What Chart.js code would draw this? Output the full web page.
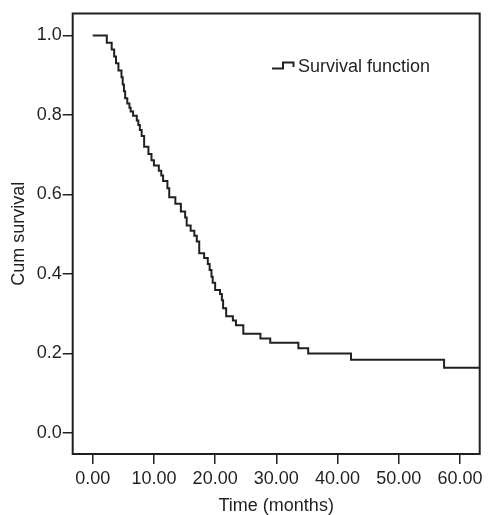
<!DOCTYPE html>
<html><head><meta charset="utf-8">
<script src="https://cdn.jsdelivr.net/npm/chart.js@4/dist/chart.umd.min.js"></script>
<style>html,body{margin:0;padding:0;background:#fff;}#wrap{width:491px;height:515px;}</style>
</head><body><div id="wrap"><canvas id="c" width="491" height="515"></canvas></div>
<script>
const seriesLabel = 'Survival function';
const times = [0, 2.3, 3.1, 3.5, 3.8, 4.2, 4.7, 4.9, 5.1, 5.3, 5.65, 6.0, 6.2, 6.6, 7.2, 7.45, 7.7, 8.0, 8.4,
  9.1, 9.6, 10.0, 10.8, 11.2, 11.5, 12.2, 12.5, 13.5, 14.4, 15.1, 15.35, 16.0, 16.6, 17.0, 17.4, 18.2, 18.8,
  19.1, 19.4, 19.6, 20.0, 20.8, 21.1, 21.3, 21.8, 22.9, 23.4, 24.6, 27.4, 29.0, 33.6, 35.2, 42.2, 57.4, 63.2];
const survival = [1.0, 0.982, 0.965, 0.947, 0.930, 0.912, 0.895, 0.877, 0.860, 0.842, 0.829, 0.818, 0.809, 0.798, 0.786, 0.775, 0.762, 0.747, 0.720,
  0.702, 0.686, 0.673, 0.660, 0.648, 0.634, 0.616, 0.593, 0.577, 0.557, 0.542, 0.522, 0.509, 0.496, 0.482, 0.452, 0.440, 0.425,
  0.410, 0.393, 0.378, 0.360, 0.350, 0.334, 0.314, 0.294, 0.283, 0.271, 0.250, 0.238, 0.227, 0.213, 0.200, 0.184, 0.164, 0.164];
const xTicks = [0, 10, 20, 30, 40, 50, 60];
const yTicks = [0, 0.2, 0.4, 0.6, 0.8, 1.0];
const xTitle = 'Time (months)';
const yTitle = 'Cum survival';

const FONT = '"Liberation Sans", Arial, Helvetica, sans-serif';
const INK = '#231f20';

const points = times.map((t, i) => ({x: t, y: survival[i]}));

const framePlugin = {
  id: 'frame',
  afterDatasetsDraw(chart) {
    const {ctx, chartArea: a} = chart;
    ctx.save();
    ctx.strokeStyle = INK;
    ctx.lineWidth = 2;
    ctx.strokeRect(a.left, a.top, a.right - a.left, a.bottom - a.top);
    ctx.restore();
  }
};

const legendPlugin = {
  id: 'stepLegend',
  afterDraw(chart) {
    const {ctx} = chart;
    const ds = chart.data.datasets[0];
    const x0 = 272, yLow = 68.5, yHigh = 62.5;
    ctx.save();
    ctx.strokeStyle = ds.borderColor;
    ctx.lineWidth = 2;
    ctx.beginPath();
    ctx.moveTo(x0, yLow);
    ctx.lineTo(x0 + 11, yLow);
    ctx.lineTo(x0 + 11, yHigh);
    ctx.lineTo(x0 + 21.5, yHigh);
    ctx.lineTo(x0 + 21.5, 67);
    ctx.stroke();
    ctx.fillStyle = INK;
    ctx.font = '18px ' + FONT;
    ctx.textBaseline = 'middle';
    ctx.textAlign = 'left';
    ctx.fillText(ds.label, x0 + 26, 67);
    ctx.restore();
  }
};

new Chart(document.getElementById('c'), {
  type: 'line',
  data: {
    datasets: [{
      label: seriesLabel,
      data: points,
      stepped: 'before',
      borderColor: INK,
      borderWidth: 2,
      pointRadius: 0,
      fill: false,
      tension: 0
    }]
  },
  options: {
    responsive: false,
    devicePixelRatio: 1,
    animation: false,
    layout: {padding: {left: 0, top: 13.5, right: 11.3, bottom: 0}},
    plugins: {legend: {display: false}, tooltip: {enabled: false}},
    scales: {
      x: {
        type: 'linear',
        min: -3.27, max: 63.22,
        afterBuildTicks: s => { s.ticks = xTicks.map(v => ({value: v})); },
        afterFit: s => { s.height = 61; },
        grid: {drawOnChartArea: false, drawTicks: true, tickLength: 10, color: INK, lineWidth: 1.5},
        border: {display: false},
        ticks: {color: INK, font: {family: FONT, size: 18}, padding: 4, maxRotation: 0,
          callback: v => Number(v).toFixed(2)},
        title: {display: true, text: xTitle, color: INK, font: {family: FONT, size: 18, lineHeight: 1.2}, padding: {top: 0, bottom: -2}}
      },
      y: {
        type: 'linear',
        min: -0.0528, max: 1.0553,
        afterBuildTicks: s => { s.ticks = yTicks.map(v => ({value: v})); },
        afterFit: s => { s.width = 72.7; },
        grid: {drawOnChartArea: false, drawTicks: true, tickLength: 10, color: INK, lineWidth: 1.5},
        border: {display: false},
        ticks: {color: INK, font: {family: FONT, size: 18}, padding: 1,
          callback: v => Number(v).toFixed(1)},
        title: {display: true, text: yTitle, color: INK, font: {family: FONT, size: 18, lineHeight: 1.2}, padding: {top: 8.5, bottom: 0}}
      }
    }
  },
  plugins: [framePlugin, legendPlugin]
});
</script>
</body></html>
